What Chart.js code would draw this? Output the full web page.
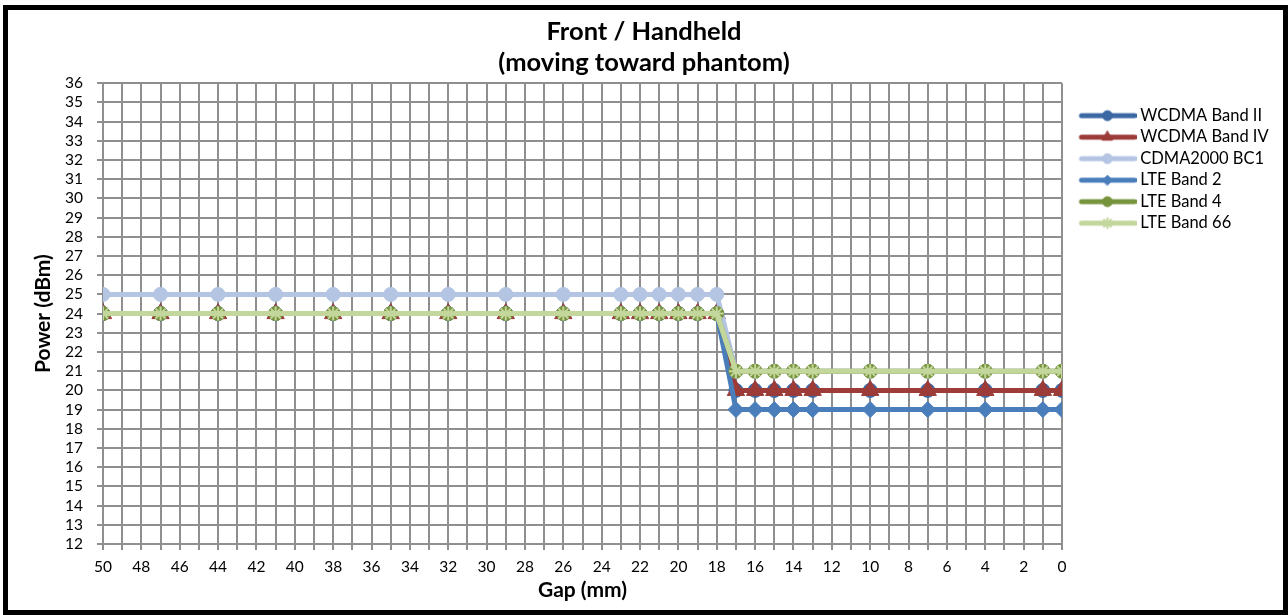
<!DOCTYPE html>
<html>
<head>
<meta charset="utf-8">
<script src="https://cdn.jsdelivr.net/npm/chart.js@4.4.1/dist/chart.umd.min.js"></script>
<style>
  html, body { margin: 0; padding: 0; background: #fff; }
</style>
</head>
<body>
<canvas id="powerChart" width="1288" height="615"></canvas>
<script>
// measured gap positions (mm)
var gapMm = [50, 47, 44, 41, 38, 35, 32, 29, 26, 23, 22, 21, 20, 19, 18, 17, 16, 15, 14, 13, 10, 7, 4, 1, 0];

// power (dBm) per band, one value per gap
var wcdmaBand2 = [24, 24, 24, 24, 24, 24, 24, 24, 24, 24, 24, 24, 24, 24, 24, 20, 20, 20, 20, 20, 20, 20, 20, 20, 20];
var wcdmaBand4 = [24, 24, 24, 24, 24, 24, 24, 24, 24, 24, 24, 24, 24, 24, 24, 20, 20, 20, 20, 20, 20, 20, 20, 20, 20];
var cdma2000 = [25, 25, 25, 25, 25, 25, 25, 25, 25, 25, 25, 25, 25, 25, 25, 21, 21, 21, 21, 21, 21, 21, 21, 21, 21];
var lteBand2 = [24, 24, 24, 24, 24, 24, 24, 24, 24, 24, 24, 24, 24, 24, 24, 19, 19, 19, 19, 19, 19, 19, 19, 19, 19];
var lteBand4 = [24, 24, 24, 24, 24, 24, 24, 24, 24, 24, 24, 24, 24, 24, 24, 21, 21, 21, 21, 21, 21, 21, 21, 21, 21];
var lteBand66 = [24, 24, 24, 24, 24, 24, 24, 24, 24, 24, 24, 24, 24, 24, 24, 21, 21, 21, 21, 21, 21, 21, 21, 21, 21];

var seriesNames = ['WCDMA Band II', 'WCDMA Band IV', 'CDMA2000 BC1', 'LTE Band 2', 'LTE Band 4', 'LTE Band 66'];
var seriesValues = [wcdmaBand2, wcdmaBand4, cdma2000, lteBand2, lteBand4, lteBand66];

var xTickLabels = [50, 48, 46, 44, 42, 40, 38, 36, 34, 32, 30, 28, 26, 24, 22, 20, 18, 16, 14, 12, 10, 8, 6, 4, 2, 0];
var yMin = 12, yMax = 36;

// look of each series
var seriesStyle = [
    { color: '#3b67a3', marker: 'circle', radius: 7, legendRadius: 5 },
    { color: '#9c3b38', marker: 'triangle', radius: 10, legendRadius: 6 },
    { color: '#b3c5e2', marker: 'circle', radius: 7, legendRadius: 5 },
    { color: '#4a7ebb', marker: 'rectRot', radius: 8, legendRadius: 5 },
    { color: '#77933c', marker: 'circle', radius: 7, legendRadius: 5 },
    { color: '#c3d69b', marker: 'star', radius: 7, legendRadius: 5 }
];

Chart.defaults.font.family = 'Lato';
Chart.defaults.color = '#000';

// small line + marker picture for each legend entry
function legendSample(st) {
    var c = document.createElement('canvas');
    c.width = 74;
    c.height = 18;
    var g = c.getContext('2d');
    g.strokeStyle = st.color;
    g.fillStyle = st.color;
    g.lineWidth = 5;
    g.lineCap = 'round';
    g.beginPath();
    g.moveTo(19, 9);
    g.lineTo(72, 9);
    g.stroke();
    g.lineWidth = st.marker === 'star' ? 2 : 1;
    Chart.helpers.drawPoint(g, { pointStyle: st.marker, radius: st.legendRadius, rotation: 0, borderWidth: g.lineWidth }, 45, 9);
    return c;
}
var legendImages = seriesStyle.map(legendSample);

var datasets = seriesNames.map(function (name, i) {
    var st = seriesStyle[i];
    return {
        label: name,
        data: gapMm.map(function (g, j) { return { x: g, y: seriesValues[i][j] }; }),
        borderColor: st.color,
        backgroundColor: st.color,
        borderWidth: 5,
        pointStyle: st.marker,
        pointRadius: st.radius,
        pointBorderColor: st.color,
        pointBackgroundColor: st.color,
        pointBorderWidth: st.marker === 'star' ? 2 : 1,
        tension: 0,
        order: seriesNames.length - i
    };
});

var framePlugin = {
    id: 'frame',
    beforeDraw: function (chart) {
        var ctx = chart.ctx;
        ctx.save();
        ctx.fillStyle = '#fff';
        ctx.fillRect(0, 0, chart.width, chart.height);
        ctx.restore();
    },
    afterDraw: function (chart) {
        var ctx = chart.ctx;
        ctx.save();
        ctx.strokeStyle = '#000';
        ctx.lineWidth = 5;
        ctx.strokeRect(5.5, 7.5, 1280, 605);
        ctx.restore();
    }
};

var gridColor = '#8f8f8f';

var ctx = document.getElementById('powerChart').getContext('2d');
var powerChart = new Chart(ctx, {
    type: 'line',
    data: { datasets: datasets },
    options: {
        responsive: false,
        animation: false,
        layout: { padding: { top: 16, left: 18, right: 18, bottom: 11 } },
        scales: {
            x: {
                type: 'linear',
                reverse: true,
                min: 0,
                max: 50,
                afterFit: function (scale) { scale.height = 60; },
                grid: { color: gridColor, lineWidth: 2, tickLength: 6 },
                border: { color: gridColor, width: 2 },
                ticks: {
                    stepSize: 1,
                    autoSkip: false,
                    maxRotation: 0,
                    padding: 8,
                    font: { size: 15.5 },
                    callback: function (v) { return xTickLabels.indexOf(v) >= 0 ? String(v) : ''; }
                },
                title: { display: true, text: 'Gap (mm)', font: { size: 21, weight: 'bold' }, padding: { top: 0, bottom: 1 } }
            },
            y: {
                min: yMin,
                max: yMax,
                afterFit: function (scale) { scale.width = 85; },
                grid: { color: gridColor, lineWidth: 2, tickLength: 6 },
                border: { color: gridColor, width: 2 },
                ticks: { stepSize: 1, autoSkip: false, padding: 14, font: { size: 15.5 } },
                title: { display: true, text: 'Power (dBm)', font: { size: 21, weight: 'bold' }, padding: { top: 13, bottom: 0 } }
            }
        },
        plugins: {
            title: {
                display: true,
                text: ['Front / Handheld', '(moving toward phantom)'],
                font: { size: 25.5, weight: 'bold', lineHeight: 1.22 },
                color: '#000',
                padding: { top: 0, bottom: 5 }
            },
            legend: {
                position: 'right',
                align: 'start',
                maxWidth: 208,
                title: { display: true, text: '', padding: { top: 72, bottom: 0 } },
                labels: {
                    usePointStyle: true,
                    pointStyleWidth: 65,
                    boxHeight: 16,
                    padding: 5,
                    color: '#000',
                    font: { size: 16.5 },
                    generateLabels: function (chart) {
                        return chart.data.datasets.map(function (ds, i) {
                            return { text: ds.label, pointStyle: legendImages[i], datasetIndex: i, lineWidth: 0, fontColor: '#000', hidden: false };
                        });
                    }
                }
            },
            tooltip: { enabled: false }
        }
    },
    plugins: [framePlugin]
});
</script>
</body>
</html>
